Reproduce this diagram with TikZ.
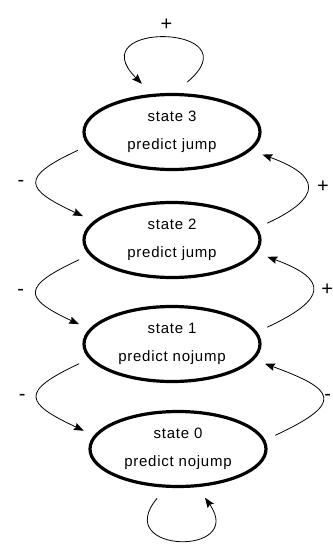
\documentclass[tikz,border=0pt]{standalone}
\usepackage{fontspec}
\setmainfont{Liberation Sans}
\newfontfamily\statefont[LetterSpace=5]{Liberation Sans}
\usetikzlibrary{shapes.geometric,arrows.meta}

\begin{document}
\begin{tikzpicture}[x=1pt, y=1pt,
	state/.style={draw, ellipse, line width=3.2pt, minimum width=176pt, minimum height=75pt,
		inner sep=0pt, outer sep=13pt, align=center, font=\statefont\fontsize{15}{28}\selectfont},
	arr/.style={-{Stealth[length=10pt, width=7.5pt, inset=1.5pt]}, line width=0.8pt},
	lbl/.style={font=\fontsize{20}{22}\selectfont, inner sep=1pt}
]
	\useasboundingbox (0,0) rectangle (332,-554);

	% States, top to bottom
	\node[state] (s3) at (172,-132) {state 3\\predict jump};
	\node[state] (s2) at (172,-240) {state 2\\predict jump};
	\node[state] (s1) at (172,-344) {state 1\\predict nojump};
	\node[state] (s0) at (178,-449) {state 0\\predict nojump};

	% Down moves, left side
	\draw[arr] (s3.191) to[out=205, in=155, looseness=2.5] node[lbl, left=11pt] (m32) {-} (s2.165);
	\draw[arr] (s2.192) to[out=205, in=155, looseness=2.5] node[lbl, left=11pt] (m21) {-} (s1.168);
	\draw[arr] (s1.192) to[out=205, in=155, looseness=2.5] node[lbl, left=10pt] (m10) {-} (s0.169);

	% Up moves, right side
	\draw[arr] (s2.10) to[out=25, in=-20, looseness=2.3] node[lbl, right=8pt] (p23) {+} (s3.-14);
	\draw[arr] (s1.10) to[out=25, in=-20, looseness=2.4] node[lbl, right=7pt] (p12) {+} (s2.-10);
	\draw[arr] (s0.8) to[out=25, in=-20, looseness=2.7] node[lbl, right=0pt] (m01) {-} (s1.-12);

	% Self loops
	\draw[arr] (s3.73) .. controls +(40:90) and +(135:90) .. node[lbl, above=5pt] (p33) {+} (s3.122);
	\draw[arr] (s0.247) .. controls +(230:72) and +(-55:72) .. (s0.299);
\end{tikzpicture}
\end{document}
